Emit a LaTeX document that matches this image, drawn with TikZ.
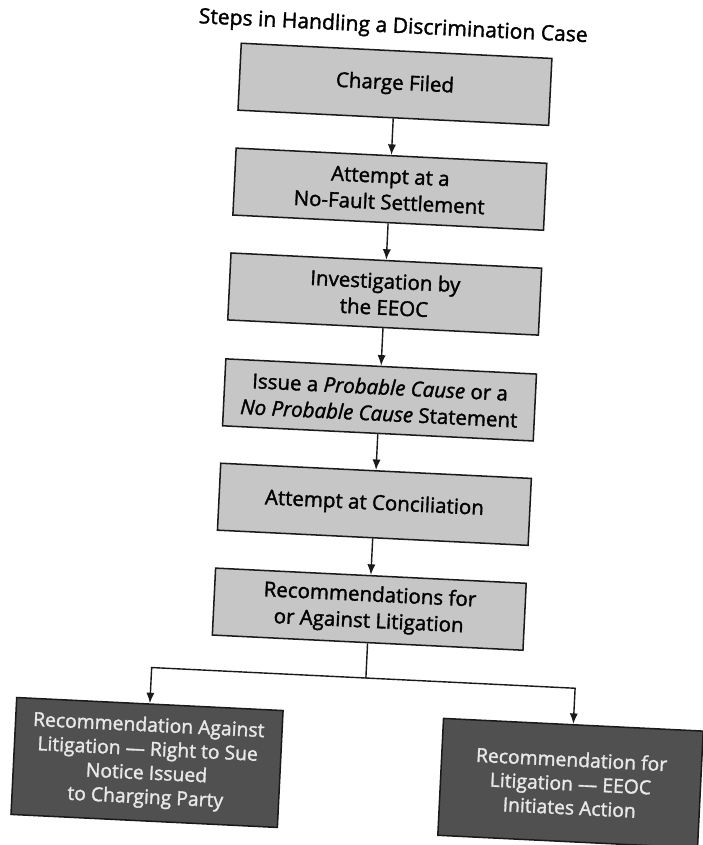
\documentclass[tikz,border=0pt]{standalone}
\usepackage{fontspec}
\setmainfont{Open Sans}[FakeBold=1.6]
\usetikzlibrary{arrows.meta}
\definecolor{boxgray}{HTML}{C6C6C6}
\definecolor{darkbox}{HTML}{505050}
\definecolor{lightfg}{HTML}{E8E8E8}
\definecolor{ink}{HTML}{1A1A1A}
\begin{document}
\begin{tikzpicture}[x=0.03cm,y=-0.03cm,
  stepbox/.style={draw=ink, line width=1.3pt, fill=boxgray, minimum width=9.33cm, minimum height=2.01cm,
    align=center, inner sep=0pt, font=\fontsize{17.5}{22.5}\selectfont, transform shape},
  darkstep/.style={draw=ink, line width=1.3pt, fill=darkbox, text=lightfg, minimum height=3.51cm,
    align=center, inner sep=0pt, font=\fontsize{16.5}{20.5}\selectfont, transform shape},
  flow/.style={draw=ink, line width=1.2pt, -{Latex[length=9pt,width=7pt]}},
  plain/.style={draw=ink, line width=1.2pt}]
\useasboundingbox (0,0) rectangle (702,845);
\fill[white] (0,0) rectangle (702,845);
\begin{scope}[rotate around={-2.8:(350,420)}]
  \node[font=\fontsize{18}{21}\selectfont, transform shape] (title) at (374,25.5) {Steps in Handling a Discrimination Case};
  \node[stepbox] (b1) at (378.5,82.5) {Charge Filed};
  \node[stepbox] (b2) at (378.5,187.5) {Attempt at a\\No-Fault Settlement};
  \node[stepbox] (b3) at (378.5,292.5) {Investigation by\\the EEOC};
  \node[stepbox] (b4) at (378.5,398.5) {Issue a \textit{Probable Cause} or a\\\textit{No Probable Cause} Statement};
  \node[stepbox] (b5) at (378.5,503) {Attempt at Conciliation};
  \node[stepbox] (b6) at (378.5,608) {Recommendations for\\or Against Litigation};
  \node[darkstep, minimum width=8.0cm] (l) at (164,772) {Recommendation Against\\Litigation — Right to Sue\\Notice Issued\\to Charging Party};
  \node[darkstep, minimum width=7.8cm] (r) at (588,772) {Recommendation for\\Litigation — EEOC\\Initiates Action};
  \coordinate (jm) at (378.5,677);
  \coordinate (jl) at (164,677);
  \coordinate (jr) at (588,677);
  \draw[flow] (b1) -- (b2);
  \draw[flow] (b2) -- (b3);
  \draw[flow] (b3) -- (b4);
  \draw[flow] (b4) -- (b5);
  \draw[flow] (b5) -- (b6);
  \draw[plain] (b6) -- (jm);
  \draw[flow] (jm) -- (jl) -- (l);
  \draw[flow] (jm) -- (jr) -- (r);
\end{scope}
\end{tikzpicture}
\end{document}
